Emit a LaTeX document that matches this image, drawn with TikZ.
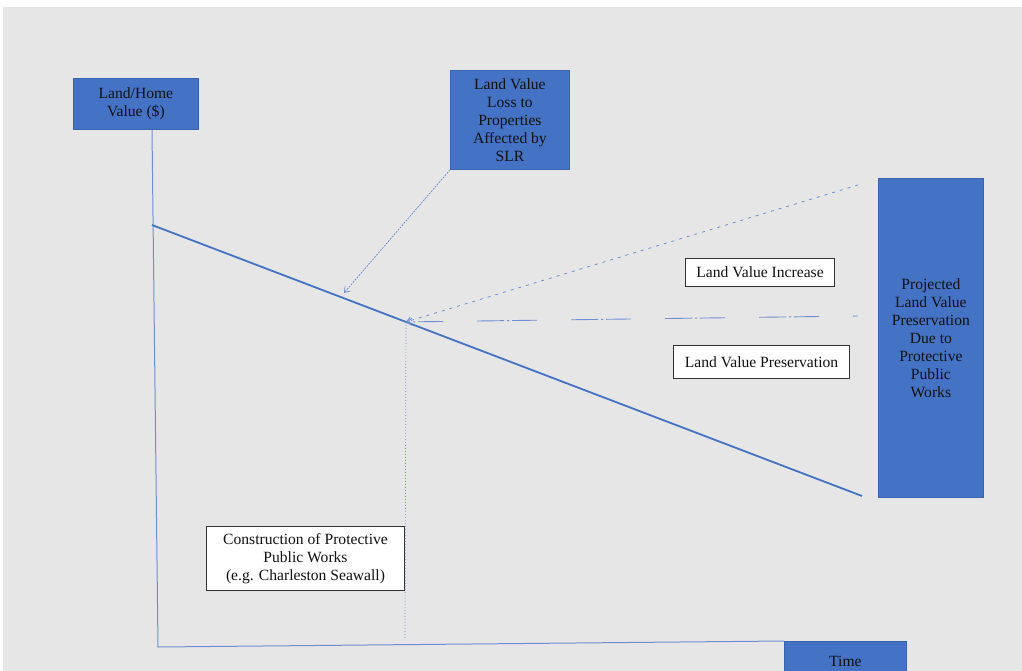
\documentclass[tikz,border=0pt]{standalone}
\usepackage{fontspec}
\setmainfont{Liberation Serif}
\usetikzlibrary{arrows.meta,calc}
\definecolor{bggray}{HTML}{E6E6E6}
\definecolor{boxblue}{HTML}{4472C4}
\definecolor{boxedge}{HTML}{3A63AE}
\definecolor{lineblue}{HTML}{4472C4}
\definecolor{thinblue}{HTML}{6E8FD3}
\definecolor{inkdark}{HTML}{111111}
\tikzset{
  lbl/.style={font=\fontsize{15.6}{18}\selectfont, text=inkdark, align=center, inner sep=0pt, anchor=north west},
  bluebox/.style={lbl, fill=boxblue, draw=boxedge, line width=0.8pt},
  whitebox/.style={lbl, fill=white, draw=black!80, line width=1pt},
  axisline/.style={draw=thinblue, line width=1pt},
  valueline/.style={draw=lineblue, line width=1.8pt},
  tip/.style={-{Straight Barb[length=5pt,width=7pt]}},
  pointer/.style={draw=thinblue, line width=0.7pt, dash pattern=on 2pt off 1pt, tip},
  gainline/.style={draw=thinblue, line width=0.8pt, dash pattern=on 3pt off 5pt, tip},
  holdline/.style={draw=thinblue, line width=0.9pt, dash pattern=on 25pt off 3pt on 2pt off 3pt on 27pt off 34pt, dash phase=55pt, tip},
  dropline/.style={draw=thinblue, line width=0.7pt, dash pattern=on 1pt off 2pt}
}
\begin{document}
\begin{tikzpicture}[x=1pt,y=-1pt]
\useasboundingbox (0,0) rectangle (1022,671);
\clip (0,0) rectangle (1022,671);
\fill[white] (0,0) rectangle (1022,671);
\fill[bggray] (3,7) rectangle (1022,671);

% labelled boxes
\node[bluebox, minimum width=125pt, minimum height=51pt] (lh) at (73,78) {Land/Home\\Value (\$)};
\node[bluebox, minimum width=119pt, minimum height=99pt] (slr) at (450,70) {Land Value\\Loss to\\Properties\\Affected by\\SLR};
\node[bluebox, minimum width=105pt, minimum height=319pt] (proj) at (878,178) {Projected\\Land Value\\Preservation\\Due to\\Protective\\Public\\Works};
\node[bluebox, minimum width=122pt, minimum height=40pt] (time) at (784,641) {Time};
\node[whitebox, minimum width=149pt, minimum height=28pt] (inc) at (685,258) {Land Value Increase};
\node[whitebox, minimum width=176pt, minimum height=33pt] (pres) at (673,345) {Land Value Preservation};
\node[whitebox, minimum width=198pt, minimum height=64pt] (cons) at (206,526) {Construction of Protective\\Public Works\\(e.g. Charleston Seawall)};

% axes
\coordinate (ytop) at ($(lh.south west)+(79,0)$);
\coordinate (origin) at (158,647);
\draw[axisline] (ytop) -- (origin) -- (time.north west);

% declining value line
\coordinate (vstart) at (152,225);
\coordinate (vend) at (862,496);
\draw[valueline] (vstart) -- (vend);
\coordinate (pivot) at ($(vstart)!0.3577!(vend)$);

% pointer from the loss label
\coordinate (losspt) at (344,293);
\draw[pointer] (slr.south west) -- (losspt);

% projected increase and preservation lines
\coordinate (upper) at (858,185);
\coordinate (level) at (858,316);
\draw[gainline] (upper) -- (pivot);
\draw[holdline] (level) -- (pivot);

% construction date marker
\coordinate (foot) at (405,640);
\draw[dropline] (pivot) -- (foot);
\end{tikzpicture}
\end{document}
